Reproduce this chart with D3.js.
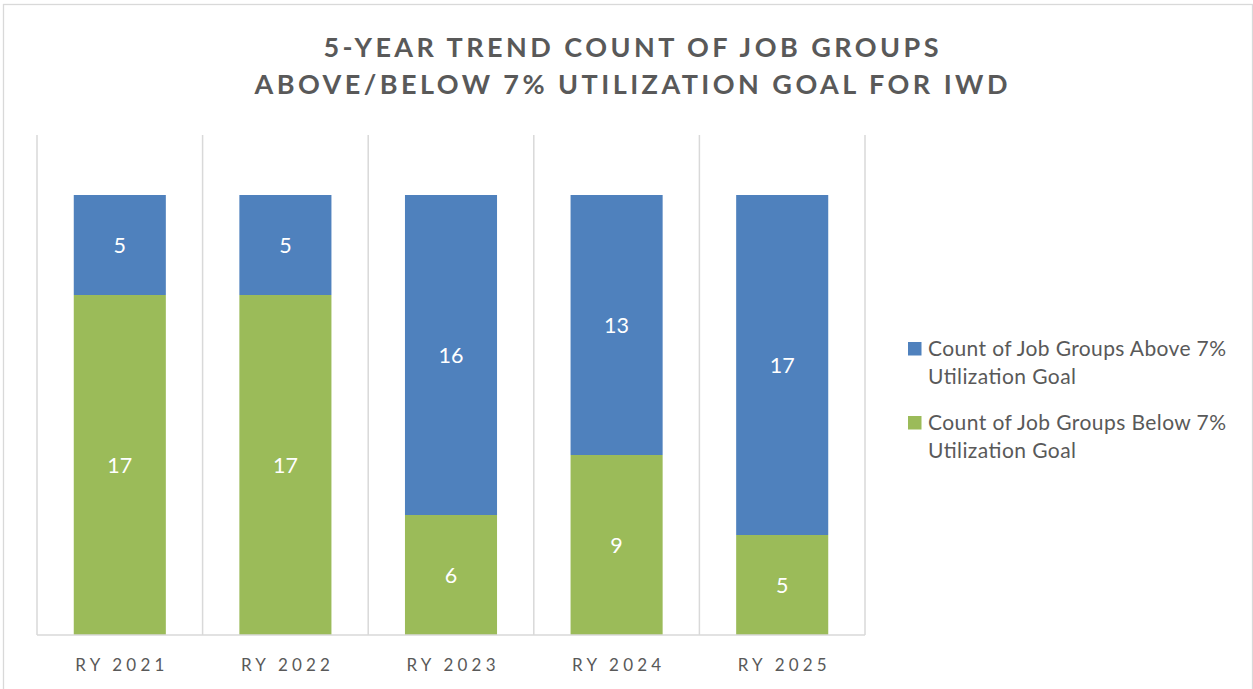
<!DOCTYPE html>
<html><head><meta charset="utf-8">
<script src="https://cdn.jsdelivr.net/npm/d3@7"></script>
<style>
html,body{margin:0;padding:0;background:#fff;}
svg{display:block;font-family:Lato,"Open Sans","Liberation Sans",sans-serif;}
</style></head>
<body>
<svg id="chart" width="1253" height="689"></svg>
<script>
const categories = ["RY 2021","RY 2022","RY 2023","RY 2024","RY 2025"];
const aboveValues = [5,5,16,13,17];
const belowValues = [17,17,6,9,5];
const seriesNames = ["Count of Job Groups Above 7% Utilization Goal","Count of Job Groups Below 7% Utilization Goal"];
const seriesColors = ["#4F81BD","#9BBB59"];
const titleLines = ["5-YEAR TREND COUNT OF JOB GROUPS","ABOVE/BELOW 7% UTILIZATION GOAL FOR IWD"];

const svg = d3.select("#chart");
const W = 1253, H = 689;
const m = {left:37, right:865, top:135, bottom:635};

svg.append("rect").attr("x",3.5).attr("y",4.5).attr("width",W-4).attr("height",H)
  .attr("fill","#fff").attr("stroke","#d9d9d9").attr("stroke-width",1.3);

const x = d3.scaleBand().domain(categories).range([m.left,m.right]).paddingInner(0.444).paddingOuter(0.222);
const y = d3.scaleLinear().domain([0,25]).range([m.bottom,m.top]);

// vertical gridlines at category boundaries
const bounds = d3.range(categories.length+1).map(i=>m.left + i*(m.right-m.left)/categories.length);
svg.append("g").selectAll("line").data(bounds).join("line")
  .attr("x1",d=>d).attr("x2",d=>d).attr("y1",m.top).attr("y2",m.bottom)
  .attr("stroke","#d9d9d9").attr("stroke-width",1.5);

const data = categories.map((c,i)=>({cat:c, above:aboveValues[i], below:belowValues[i]}));
const stack = d3.stack().keys(["below","above"])(data);
const colorByKey = {above:seriesColors[0], below:seriesColors[1]};

const g = svg.append("g");
stack.forEach(layer=>{
  g.append("g").selectAll("rect").data(layer).join("rect")
    .attr("x",d=>x(d.data.cat)).attr("width",x.bandwidth())
    .attr("y",d=>y(d[1])).attr("height",d=>y(d[0])-y(d[1]))
    .attr("fill",colorByKey[layer.key]);
  g.append("g").selectAll("text").data(layer).join("text")
    .attr("x",d=>x(d.data.cat)+x.bandwidth()/2)
    .attr("y",d=>(y(d[0])+y(d[1]))/2)
    .attr("dy","0.36em").attr("text-anchor","middle")
    .attr("fill","#fff").attr("font-size",21.5)
    .text(d=>d.data[layer.key]);
});

// x axis
const xAxis = svg.append("g").attr("transform",`translate(0,${m.bottom})`)
  .call(d3.axisBottom(x).tickSize(0));
xAxis.select(".domain").attr("stroke","#d9d9d9").attr("stroke-width",1.5)
  .attr("d",`M${m.left},0H${m.right}`);
xAxis.selectAll("text").attr("font-size",17).attr("fill","#595959")
  .attr("font-family","Lato,'Open Sans',sans-serif")
  .attr("y",36).attr("dy",0)
  .attr("textLength",89).attr("lengthAdjust","spacing");

// title
const titleWidths = [615, 753];
svg.append("g").selectAll("text").data(titleLines).join("text")
  .attr("x",631).attr("y",(d,i)=>57+i*37)
  .attr("text-anchor","middle").attr("font-size",27).attr("font-weight","bold")
  .attr("fill","#595959")
  .attr("textLength",(d,i)=>titleWidths[i]).attr("lengthAdjust","spacing")
  .text(d=>d);

// legend
const legendItems = [
  {lines:["Count of Job Groups Above 7%","Utilization Goal"], w:[298,148], color:seriesColors[0], y:348},
  {lines:["Count of Job Groups Below 7%","Utilization Goal"], w:[298,148], color:seriesColors[1], y:422}
];
const lg = svg.append("g");
legendItems.forEach((it,i)=>{
  lg.append("rect").attr("x",908).attr("y",it.y-6).attr("width",13.5).attr("height",13.5).attr("fill",it.color);
  it.lines.forEach((t,j)=>{
    lg.append("text").attr("x",928).attr("y",it.y+j*28).attr("dy","0.36em")
      .attr("font-size",21).attr("fill","#595959")
      .attr("textLength",it.w[j]).attr("lengthAdjust","spacing").text(t);
  });
});
</script>
</body></html>
